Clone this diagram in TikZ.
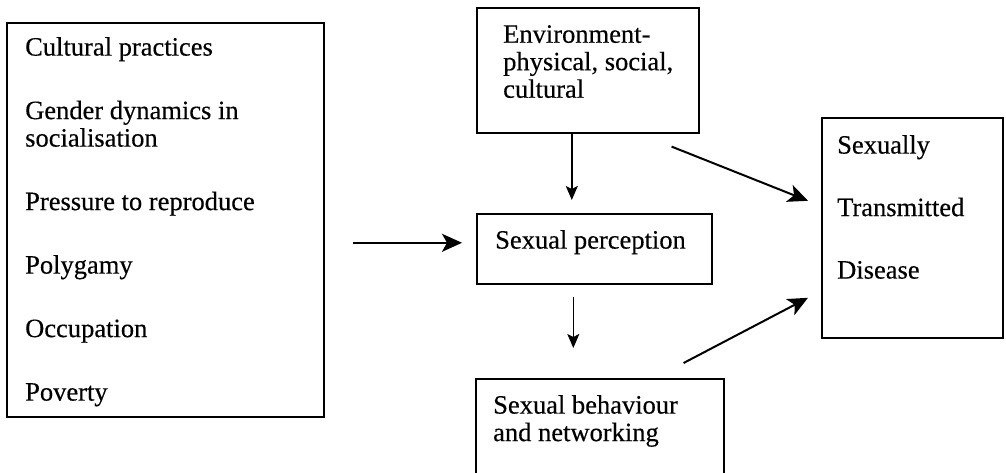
\documentclass[tikz,border=0pt]{standalone}
\usepackage{fontspec}
\setmainfont{Liberation Serif}[FakeBold=0.35]
\usetikzlibrary{arrows.meta, positioning, calc}

\begin{document}
\begin{tikzpicture}[
  x=1pt, y=-1pt,
  box/.style = {
    draw,
    line width=1.6pt,
    anchor=north west,
    inner sep=0pt
  },
  boxtext/.style = {
    align=left,
    inner sep=0pt,
    font=\fontsize{26.5}{27.5}\selectfont
  },
  arrow/.style = {line width=2pt, -{Stealth[length=20pt, width=18pt, inset=5pt]}},
  down_arrow/.style = {line width=1.4pt, -{Stealth[length=14pt, width=12pt, inset=3pt]}}
]

\useasboundingbox (0,0) rectangle (1006,473);

% ======================================================
% BOXES
% ======================================================

\node[box, minimum width=317pt, minimum height=394pt] (factors) at (6,22) {};
\node[boxtext, below right=15pt and 19pt of factors.north west] (factors_text) {
  Cultural practices\\[36pt]
  Gender dynamics in\\
  socialisation\\[36pt]
  Pressure to reproduce\\[36pt]
  Polygamy\\[36pt]
  Occupation\\[36pt]
  Poverty
};

\node[box, minimum width=222pt, minimum height=125pt] (env) at (476,7) {};
\node[boxtext, below right=18pt and 27pt of env.north west] (env_text) {
  Environment-\\
  physical, social,\\
  cultural
};

\node[box, minimum width=235pt, minimum height=70pt] (perception) at (476,213) {};
\node[boxtext, below right=17pt and 19pt of perception.north west] (perception_text) {
  Sexual perception
};

\node[box, minimum width=248pt, minimum height=110pt] (behaviour) at (475,378) {};
\node[boxtext, below right=17pt and 18pt of behaviour.north west] (behaviour_text) {
  Sexual behaviour\\
  and networking
};

\node[box, minimum width=181pt, minimum height=220pt] (std) at (821,117) {};
\node[boxtext, below right=18pt and 16pt of std.north west] (std_text) {
  Sexually\\[35pt]
  Transmitted\\[35pt]
  Disease
};

% ======================================================
% ARROWS
% ======================================================

\coordinate (factors_out) at ($(factors.east |- perception.west)+(28,-6)$);
\draw[arrow] (factors_out) -- ($(perception.west)+(-14,-6)$);

\coordinate (env_out) at ($(env.south)+(-16,0)$);
\draw[down_arrow, shorten >=13pt] (env_out) -- (env_out |- perception.north);

\coordinate (perception_out) at ($(perception.south)+(-21,12)$);
\draw[down_arrow, shorten >=30pt] (perception_out) -- (perception_out |- behaviour.north);

\draw[arrow] ($(env.south east)+(-28,13)$) -- ($(std.west)+(-13,-27)$);
\draw[arrow] ($(behaviour.north east)+(-41,-15)$) -- ($(std.west)+(-13,70)$);

\end{tikzpicture}
\end{document}
